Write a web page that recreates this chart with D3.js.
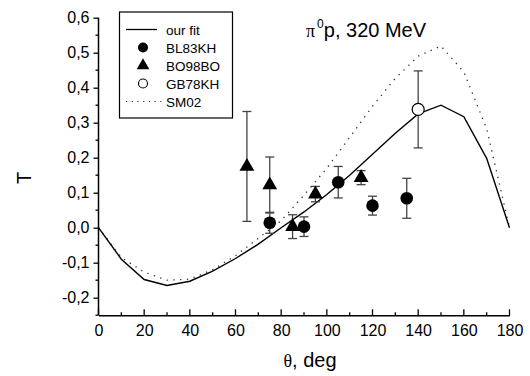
<!DOCTYPE html>
<html>
<head>
<meta charset="utf-8">
<script src="https://cdn.jsdelivr.net/npm/d3@7"></script>
<style>
  html, body { margin: 0; padding: 0; background: #fff; }
  svg { display: block; font-family: "Liberation Sans", Arial, sans-serif; }
</style>
</head>
<body>
<div id="chart"></div>
<script>
// angle grid of the model curves (deg)
const angles = [0, 10, 20, 30, 40, 50, 60, 70, 80, 90, 100, 110, 120, 130, 140, 150, 160, 170, 180];
const ourFit = [0, -0.09, -0.148, -0.165, -0.153, -0.124, -0.088, -0.047, 0.0, 0.045, 0.095, 0.15, 0.21, 0.27, 0.325, 0.35, 0.317, 0.198, 0.0];
const sm02 = [0, -0.085, -0.127, -0.15, -0.147, -0.12, -0.08, -0.03, 0.02, 0.093, 0.17, 0.258, 0.347, 0.427, 0.49, 0.519, 0.445, 0.283, 0.0];

// experimental points
const bl83Angle = [75, 90, 105, 120, 135];
const bl83Value = [0.014, 0.003, 0.13, 0.063, 0.084];
const bl83Error = [0.03, 0.028, 0.045, 0.027, 0.057];

const bo98Angle = [65, 75, 85, 95, 115];
const bo98Value = [0.175, 0.122, 0.003, 0.096, 0.143];
const bo98Error = [0.157, 0.08, 0.034, 0.022, 0.02];

const gb78Angle = [140];
const gb78Value = [0.338];
const gb78Error = [0.11];

const xTicks = [0, 20, 40, 60, 80, 100, 120, 140, 160, 180];
const yTicks = [-0.2, -0.1, 0.0, 0.1, 0.2, 0.3, 0.4, 0.5, 0.6];
const legendLabels = ["our fit", "BL83KH", "BO98BO", "GB78KH", "SM02"];

const W = 530, H = 376;
const svg = d3.select("#chart").append("svg").attr("width", W).attr("height", H);

const x = d3.scaleLinear().domain([0, 180]).range([98.5, 509.5]);
const y = d3.scaleLinear().domain([-0.25, 0.6]).range([315.2, 17.7]);

const fmt = v => d3.format(".1f")(v).replace(".", ",").replace("−", "-");

// axes
const xAxis = d3.axisBottom(x).tickValues(xTicks).tickSize(0).tickPadding(9).tickFormat(d3.format("d"));
const gx = svg.append("g").attr("transform", `translate(0,${y(-0.25)})`).call(xAxis);
gx.select(".domain").attr("stroke", "#000").attr("stroke-width", 1.5);
gx.selectAll("text").attr("font-size", 16).attr("font-family", "Liberation Sans, Arial, sans-serif").attr("fill", "#000");
d3.range(0, 181, 10).forEach(d => {
  svg.append("line")
    .attr("x1", x(d)).attr("x2", x(d))
    .attr("y1", y(-0.25)).attr("y2", y(-0.25) - (d % 20 === 0 ? 6 : 3))
    .attr("stroke", "#000").attr("stroke-width", 1.3);
});

const yAxis = d3.axisLeft(y).tickValues(yTicks).tickSize(5).tickPadding(4).tickFormat(fmt);
const gy = svg.append("g").attr("transform", `translate(${x(0)},0)`).call(yAxis);
gy.select(".domain").attr("stroke", "#000").attr("stroke-width", 1.5).attr("d", `M0,${y(0.6)}V${y(-0.25)}`);
gy.selectAll(".tick line").attr("stroke", "#000").attr("stroke-width", 1.3);
gy.selectAll("text").attr("font-size", 16).attr("font-family", "Liberation Sans, Arial, sans-serif").attr("fill", "#000");
d3.range(-0.25, 0.6, 0.1).forEach(d => {
  svg.append("line")
    .attr("x1", x(0)).attr("x2", x(0) - 3)
    .attr("y1", y(d)).attr("y2", y(d))
    .attr("stroke", "#000").attr("stroke-width", 1.3);
});

// axis titles
svg.append("text")
  .attr("transform", `translate(31,178) rotate(-90)`)
  .attr("text-anchor", "middle")
  .attr("font-size", 20)
  .text("T");

const xt = svg.append("text").attr("x", 310).attr("y", 367).attr("text-anchor", "middle").attr("font-size", 20);
xt.append("tspan").attr("font-family", "Liberation Serif, Times New Roman, serif").attr("font-size", 18).text("θ");
xt.append("tspan").text(", deg");

// title
const tt = svg.append("text").attr("x", 306).attr("y", 37).attr("font-size", 20);
tt.append("tspan").attr("font-family", "Liberation Serif, Times New Roman, serif").attr("font-size", 18).text("π");
tt.append("tspan").attr("font-size", 12).attr("dy", -9).attr("dx", 2).text("0");
tt.append("tspan").attr("dy", 9).text("p, 320 MeV");

// curves
const line = d3.line().x(d => x(d[0])).y(d => y(d[1]));
svg.append("path")
  .datum(angles.map((a, i) => [a, sm02[i]]))
  .attr("d", line).attr("fill", "none")
  .attr("stroke", "#333").attr("stroke-width", 1.3).attr("stroke-dasharray", "1.3,5.5");
svg.append("path")
  .datum(angles.map((a, i) => [a, ourFit[i]]))
  .attr("d", line).attr("fill", "none")
  .attr("stroke", "#000").attr("stroke-width", 1.4);

// error bars
function errorBars(angle, value, err) {
  const g = svg.append("g").attr("stroke", "#444").attr("stroke-width", 1.3);
  angle.forEach((a, i) => {
    const cx = x(a), top = y(value[i] + err[i]), bot = y(value[i] - err[i]);
    g.append("line").attr("x1", cx).attr("x2", cx).attr("y1", top).attr("y2", bot);
    g.append("line").attr("x1", cx - 4.5).attr("x2", cx + 4.5).attr("y1", top).attr("y2", top);
    g.append("line").attr("x1", cx - 4.5).attr("x2", cx + 4.5).attr("y1", bot).attr("y2", bot);
  });
}
errorBars(bo98Angle, bo98Value, bo98Error);
errorBars(bl83Angle, bl83Value, bl83Error);
errorBars(gb78Angle, gb78Value, gb78Error);

const tri = d3.symbol().type(d3.symbolTriangle).size(95);

// markers
svg.selectAll(".bo98").data(bo98Angle).enter().append("path")
  .attr("d", tri)
  .attr("transform", (d, i) => `translate(${x(d)},${y(bo98Value[i])})`)
  .attr("fill", "#000");
svg.selectAll(".bl83").data(bl83Angle).enter().append("circle")
  .attr("cx", d => x(d)).attr("cy", (d, i) => y(bl83Value[i])).attr("r", 6.3)
  .attr("fill", "#000");
svg.selectAll(".gb78").data(gb78Angle).enter().append("circle")
  .attr("cx", d => x(d)).attr("cy", (d, i) => y(gb78Value[i])).attr("r", 6)
  .attr("fill", "#fff").attr("stroke", "#000").attr("stroke-width", 1.2);

// legend
const lg = svg.append("g");
lg.append("rect").attr("x", 119.5).attr("y", 12).attr("width", 113).attr("height", 106)
  .attr("fill", "#fff").attr("stroke", "#000").attr("stroke-width", 1.2);
const rowY = [29.5, 47.5, 65.5, 83.5, 101.5];
legendLabels.forEach((lab, i) => {
  lg.append("text").attr("x", 166).attr("y", rowY[i] + 5).attr("font-size", 13.5).text(lab);
});
lg.append("line").attr("x1", 126).attr("x2", 157).attr("y1", rowY[0]).attr("y2", rowY[0])
  .attr("stroke", "#000").attr("stroke-width", 1.3);
lg.append("circle").attr("cx", 143).attr("cy", rowY[1]).attr("r", 5).attr("fill", "#000");
lg.append("path").attr("d", d3.symbol().type(d3.symbolTriangle).size(70))
  .attr("transform", `translate(143,${rowY[2]})`).attr("fill", "#000");
lg.append("circle").attr("cx", 143).attr("cy", rowY[3]).attr("r", 4.5)
  .attr("fill", "#fff").attr("stroke", "#000").attr("stroke-width", 1.1);
lg.append("line").attr("x1", 126).attr("x2", 164).attr("y1", rowY[4]).attr("y2", rowY[4])
  .attr("stroke", "#333").attr("stroke-width", 1.2).attr("stroke-dasharray", "1.2,4.5");
</script>
</body>
</html>
